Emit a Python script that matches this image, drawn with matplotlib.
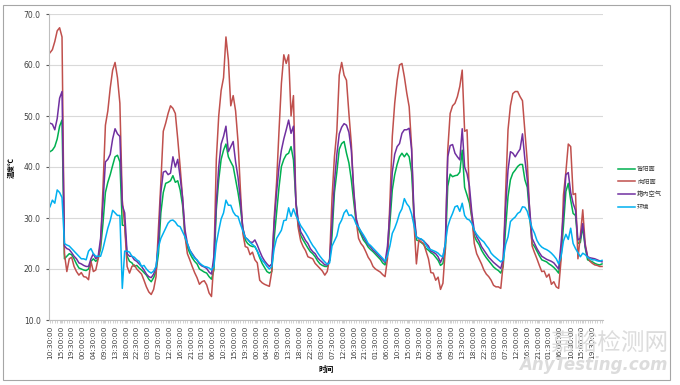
import numpy as np
import matplotlib
matplotlib.use('Agg')
import matplotlib.pyplot as plt
from matplotlib.patches import Rectangle

# hourly readings, starting 10:30 on day 1
xiangyang = [  # 向阳面
    62.4, 63.0, 64.6, 66.7, 67.3, 65.5, 23.0, 19.5, 22.0, 22.3,
    20.5, 19.5, 18.8, 19.3, 18.5, 18.4, 17.9, 21.5, 19.5, 19.8,
    22.0, 25.0, 36.0, 48.2, 51.0, 55.5, 59.0, 60.5, 57.5, 52.5,
    33.5, 28.5, 20.5, 19.2, 20.5, 20.8, 20.0, 19.5, 19.0, 17.8,
    16.5, 15.5, 15.0, 16.0, 18.5, 28.0, 37.0, 47.0, 48.6, 50.5,
    52.0, 51.5, 50.5, 45.5, 40.0, 34.0, 26.5, 23.0, 21.8, 20.5,
    19.3, 18.3, 17.0, 17.5, 17.7, 16.9, 15.3, 14.6, 21.5, 41.4,
    50.0, 55.0, 57.5, 65.5, 61.0, 52.0, 54.0, 51.0, 45.0, 35.5,
    27.0, 24.4, 24.2, 22.8, 23.3, 21.8, 21.2, 17.8, 17.3, 17.0,
    16.8, 16.6, 19.5, 30.0, 37.0, 47.0, 56.4, 62.0, 60.3, 62.0,
    50.0, 54.0, 33.0, 28.0, 25.5, 24.4, 23.6, 22.4, 22.2, 22.0,
    21.1, 20.6, 20.1, 19.6, 18.8, 19.5, 22.0, 34.0, 42.0, 47.0,
    58.0, 60.5, 58.0, 57.0, 50.5, 44.6, 35.0, 29.5, 26.0, 25.0,
    24.4, 23.4, 22.3, 21.6, 20.5, 20.0, 19.7, 19.4, 18.9, 18.5,
    22.0, 33.0, 46.0, 52.5, 57.0, 60.0, 60.3, 57.7, 54.5, 51.8,
    44.0, 29.0, 21.0, 25.7, 25.3, 25.0, 23.5, 22.0, 19.3, 19.2,
    17.8, 18.4, 16.0, 17.2, 24.0, 43.3, 50.5, 52.0, 52.5, 53.8,
    55.8, 59.0, 47.0, 47.3, 34.2, 30.3, 25.0, 23.0, 22.0, 21.0,
    19.8, 19.0, 18.5, 17.8, 16.8, 16.5, 16.5, 16.2, 21.0, 35.0,
    47.3, 52.0, 54.4, 54.8, 54.8, 53.8, 53.0, 47.0, 41.0, 31.0,
    24.5, 23.2, 22.0, 20.7, 19.5, 19.6, 18.4, 19.0, 17.0, 17.5,
    16.5, 16.2, 21.8, 34.5, 39.0, 44.5, 44.0, 34.6, 34.8, 22.0,
    26.5, 31.6, 25.0, 22.4, 21.5, 21.1, 20.8, 20.7, 20.5, 20.5,
]
xiangnei = [  # 箱内空气
    48.6, 48.4, 47.3, 49.5, 53.5, 54.8, 24.5, 24.0, 23.8, 23.2,
    22.5, 22.0, 21.2, 21.0, 20.7, 20.5, 20.5, 22.0, 23.0, 22.0,
    22.5, 26.0, 33.0, 41.0, 41.5, 42.5, 45.5, 47.5, 46.5, 46.0,
    32.5, 31.0, 23.0, 22.5, 22.5, 21.8, 21.5, 21.0, 20.5, 19.8,
    19.0, 18.5, 18.3, 19.0, 20.3, 25.0, 35.0, 39.0, 39.2, 38.5,
    38.8, 42.0, 40.0, 41.5, 38.0, 34.0, 27.7, 25.0, 23.7, 23.0,
    22.3, 21.7, 21.0, 20.6, 20.4, 20.1, 19.4, 19.0, 22.5, 32.9,
    40.0, 44.5, 46.0, 48.0, 43.0, 44.0, 45.0, 41.0, 38.0, 33.5,
    28.0, 26.2, 25.8, 25.3, 25.2, 25.7, 24.7, 23.5, 22.4, 21.6,
    21.0, 20.5, 21.0, 29.0, 35.0, 40.0, 43.3, 45.5, 47.3, 49.2,
    46.6, 48.0, 33.0, 29.5, 27.3, 26.5, 25.6, 25.0, 24.0, 23.4,
    23.0, 22.2, 21.7, 21.3, 20.8, 20.8, 21.7, 29.0, 37.0, 42.5,
    46.5, 47.8, 48.5, 48.2, 46.8, 43.3, 35.5, 30.0, 28.2, 27.3,
    26.3, 25.5, 24.8, 24.3, 23.7, 23.3, 22.8, 22.3, 21.8, 21.3,
    24.5, 31.0, 39.0, 42.5, 44.0, 44.6, 46.6, 47.3, 47.3, 47.6,
    43.5, 31.0, 26.3, 26.0, 25.8, 25.5, 25.0, 24.5, 23.5, 23.3,
    23.0, 22.4, 21.3, 22.4, 25.0, 42.0, 44.2, 44.4, 42.7, 42.0,
    41.4, 47.5, 40.0, 38.7, 36.2, 31.0, 27.5, 26.3, 25.5, 24.4,
    23.7, 23.0, 22.3, 21.8, 21.3, 20.9, 20.5, 20.1, 22.0, 32.0,
    39.4, 43.0, 42.7, 42.0, 42.8, 43.5, 46.5, 41.5, 37.5, 31.6,
    26.0, 25.0, 24.0, 23.2, 22.5, 22.2, 21.9, 21.7, 21.5, 21.2,
    20.6, 20.0, 25.0, 31.0, 38.5, 38.9, 35.0, 32.9, 31.5, 25.7,
    26.0, 28.9, 24.5, 22.4, 22.2, 22.1, 22.0, 21.8, 21.6, 21.4,
]
beiyang = [  # 背阳面
    43.0, 43.3, 44.0, 45.5, 48.0, 49.2, 22.0, 22.5, 23.0, 22.8,
    22.0, 21.0, 20.2, 20.0, 19.8, 19.7, 20.0, 21.5, 22.0, 21.5,
    22.0, 24.0, 29.0, 35.0, 37.0, 38.5, 40.3, 42.0, 42.3, 41.0,
    28.6, 28.5, 22.5, 21.5, 21.2, 20.5, 20.7, 20.2, 19.8, 19.3,
    18.8, 18.0, 17.5, 18.3, 19.5, 23.0, 31.0, 35.0, 36.8, 37.0,
    37.3, 38.3, 37.0, 37.3, 35.5, 32.5, 26.4, 24.3, 23.1, 22.2,
    21.5, 21.0, 20.0, 19.7, 19.4, 19.2, 18.5, 18.0, 19.8, 31.6,
    37.5, 41.5, 43.3, 44.5, 42.0, 41.0, 40.1, 37.5, 35.0, 32.0,
    28.0, 25.7, 25.0, 24.6, 24.4, 24.4, 23.5, 22.2, 21.1, 20.3,
    19.5, 19.2, 19.5, 26.0, 31.0, 36.0, 40.1, 41.5, 42.4, 42.7,
    44.0, 41.4, 33.5, 28.5, 26.6, 25.7, 24.9, 24.1, 23.4, 23.0,
    22.4, 21.6, 21.0, 20.7, 20.5, 20.5, 21.7, 26.5, 35.0, 39.0,
    43.5, 44.6, 45.0, 42.7, 40.8, 37.5, 33.2, 29.2, 27.8, 26.8,
    25.7, 25.1, 24.3, 23.8, 23.4, 22.9, 22.4, 21.9, 21.2, 20.8,
    23.0, 29.0, 35.5, 38.5, 40.5, 42.0, 42.7, 42.0, 42.7, 42.0,
    39.0, 30.5, 25.7, 25.5, 25.2, 24.8, 24.0, 23.7, 23.2, 22.9,
    22.3, 21.7, 20.7, 21.1, 23.7, 36.2, 38.6, 38.1, 38.3, 38.4,
    39.0, 43.3, 36.0, 34.5, 32.9, 30.0, 26.5, 25.5, 24.8, 23.7,
    22.9, 22.2, 21.6, 21.0, 20.4, 20.0, 19.7, 19.2, 20.5, 28.0,
    34.2, 37.5, 38.8, 39.4, 40.1, 40.5, 40.5, 37.5, 36.0, 30.3,
    25.0, 24.4, 23.5, 22.6, 21.8, 21.6, 21.4, 21.0, 20.7, 20.3,
    19.8, 19.2, 22.4, 28.5, 35.2, 36.8, 33.5, 30.9, 30.5, 25.0,
    25.2, 28.3, 24.2, 21.8, 21.6, 21.4, 21.1, 20.9, 20.8, 21.0,
]
huanjing = [  # 环境
    32.2, 33.5, 32.9, 35.5, 35.0, 34.0, 25.0, 24.7, 24.5, 24.0,
    23.5, 23.0, 22.5, 22.0, 22.0, 21.8, 23.5, 24.0, 23.0, 22.5,
    22.5, 22.5, 24.0, 26.0, 28.0, 29.5, 31.5, 31.0, 30.5, 30.5,
    16.2, 23.5, 23.5, 23.3, 22.5, 22.3, 21.8, 21.5, 20.5, 20.7,
    20.0, 19.5, 19.2, 19.6, 20.5, 24.3, 26.0, 27.0, 28.0, 29.0,
    29.5, 29.6, 29.2, 28.5, 28.3, 27.3, 26.3, 25.0, 23.7, 22.8,
    22.1, 21.8, 21.2, 20.8, 20.5, 20.4, 20.2, 19.8, 20.5, 25.0,
    27.5, 29.8, 31.0, 33.5, 32.5, 32.5, 31.2, 30.5, 30.3, 28.8,
    27.5, 26.2, 25.8, 25.2, 24.8, 24.4, 23.5, 22.5, 21.7, 21.2,
    20.5, 20.0, 20.5, 24.0, 26.0, 26.8, 27.6, 29.5, 29.6, 32.0,
    30.3, 31.8, 30.5, 29.5, 28.5, 27.8, 27.1, 26.3, 25.4, 24.6,
    24.0, 23.2, 22.5, 21.9, 21.4, 20.9, 21.2, 24.5, 25.5, 26.5,
    28.7, 29.6, 31.0, 31.6, 30.5, 30.6, 30.0, 28.8, 28.2, 27.4,
    26.7, 25.9, 25.0, 24.6, 24.1, 23.6, 23.1, 22.6, 22.1, 21.5,
    22.6, 24.5, 27.0, 28.0, 29.3, 30.9, 31.8, 33.8, 32.8, 32.2,
    30.8, 28.5, 26.3, 26.0, 25.9, 25.5, 24.7, 24.0, 23.8, 23.6,
    23.4, 23.1, 22.6, 22.4, 25.0, 28.3, 29.8, 30.9, 32.2, 32.4,
    31.3, 32.9, 30.5, 29.8, 29.6, 28.9, 27.6, 26.8, 26.2, 25.7,
    25.3, 24.6, 24.0, 23.1, 22.6, 22.2, 21.8, 21.4, 21.8, 24.8,
    26.3, 29.3, 29.8, 30.2, 30.9, 31.2, 32.2, 32.1, 31.3, 29.6,
    28.0, 27.0, 25.6, 24.8, 24.3, 24.0, 23.8, 23.5, 23.1, 22.6,
    22.0, 21.0, 22.4, 25.5, 26.8, 25.8, 28.0, 25.0, 24.0, 23.2,
    22.4, 23.1, 22.8, 22.3, 22.0, 21.8, 21.8, 21.6, 21.5, 21.7,
]

tick_labels = [
    "10:30:00", "15:00:00", "19:30:00", "00:00:00", "04:30:00", "09:00:00",
    "13:30:00", "18:00:00", "22:30:00", "03:00:00", "07:30:00", "12:00:00",
    "16:30:00", "21:00:00", "01:30:00", "06:00:00", "10:30:00", "15:00:00",
    "19:30:00", "00:00:00", "04:30:00", "09:00:00", "13:30:00", "18:00:00",
    "22:30:00", "03:00:00", "07:30:00", "12:00:00", "16:30:00", "21:00:00",
    "01:30:00", "06:00:00", "10:30:00", "15:00:00", "19:30:00", "00:00:00",
    "04:30:00", "09:00:00", "13:30:00", "18:00:00", "22:30:00", "03:00:00",
    "07:30:00", "12:00:00", "16:30:00", "21:00:00", "01:30:00", "06:00:00",
    "10:30:00", "15:00:00", "19:30:00",
]

cjk = ['Noto Sans CJK SC', 'DejaVu Sans']

fig = plt.figure(figsize=(6.8, 3.85), dpi=100)
# chart area border like excel
fig.patches.append(Rectangle((3 / 680, 5 / 385), 667 / 680, 375 / 385,
                             transform=fig.transFigure, fill=False,
                             edgecolor='#a6a6a6', lw=0.8))

# watermark
fig.text(0.982, 0.105, '嘉峪检测网', ha='right', va='center', fontsize=17,
         color='#dcdcdc', family=cjk, zorder=0)
fig.text(0.982, 0.052, 'AnyTesting.com', ha='right', va='center', fontsize=12,
         color='#dcdcdc', style='italic', fontweight='bold', zorder=0)

ax = fig.add_axes([49 / 680, 1 - 320 / 385, 554 / 680, 306 / 385])
ax.patch.set_alpha(0)

t = np.arange(len(xiangyang))
ax.plot(t, beiyang, color='#00B050', lw=1.1, label='背阳面')
ax.plot(t, xiangyang, color='#C0504D', lw=1.1, label='向阳面')
ax.plot(t, xiangnei, color='#7030A0', lw=1.1, label='箱内空气')
ax.plot(t, huanjing, color='#00B0F0', lw=1.1, label='环境')

ax.set_ylim(10, 70)
ax.set_yticks(np.arange(10, 71, 10))
ax.set_yticklabels([f'{v:.1f}' for v in np.arange(10, 71, 10)])
ax.set_xlim(-0.4, len(xiangyang) - 0.6)
ax.set_xticks(np.arange(len(tick_labels)) * 4.5)
ax.set_xticklabels(tick_labels, rotation=90)
ax.set_xticks(t, minor=True)

ax.grid(axis='y', color='#d9d9d9', lw=0.8)
ax.set_axisbelow(True)
for s in ['top', 'right']:
    ax.spines[s].set_visible(False)
for s in ['left', 'bottom']:
    ax.spines[s].set_color('#bfbfbf')
    ax.spines[s].set_linewidth(0.8)

ax.tick_params(axis='y', labelsize=5.5, colors='#595959', length=2, pad=4)
ax.tick_params(axis='x', which='major', labelsize=5.3, colors='#595959',
               length=2, pad=2)
ax.tick_params(axis='x', which='minor', length=2, color='#bfbfbf', width=0.5)
ax.tick_params(axis='x', which='major', color='#bfbfbf', width=0.5)
for lab in ax.get_yticklabels() + ax.get_xticklabels():
    lab.set_color('#404040')

ax.set_ylabel('温度℃', family=cjk, fontsize=5, fontweight='bold', labelpad=6)
ax.set_xlabel('时间', family=cjk, fontsize=5.5, fontweight='bold', labelpad=4)

leg = ax.legend(loc='center left', bbox_to_anchor=(612 / 680, 1 - 188 / 385),
                bbox_transform=fig.transFigure, frameon=False,
                prop={'family': cjk, 'size': 4.5}, handlelength=2.8,
                handletextpad=0.3, labelspacing=0.75)
for txt in leg.get_texts():
    txt.set_color('#404040')

fig.savefig('out.png', dpi=100)
